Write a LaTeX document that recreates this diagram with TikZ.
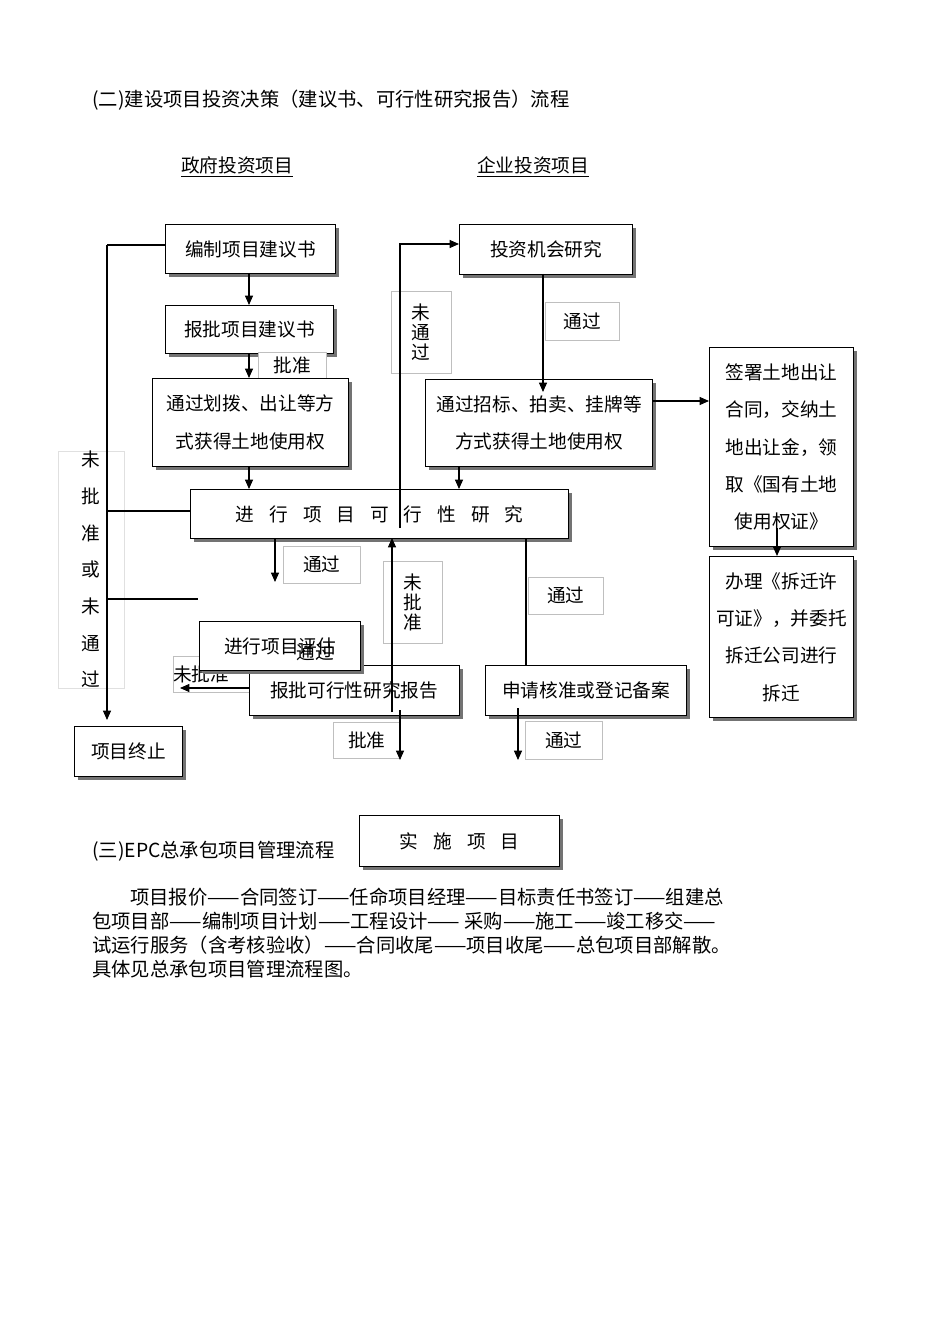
\documentclass[tikz,border=0pt]{standalone}
\usepackage{fontspec}
\setmainfont{Noto Sans CJK SC}
\usetikzlibrary{shadows,arrows.meta}
\begin{document}
\begin{tikzpicture}[x=0.75pt,y=-0.75pt,
  box/.style={draw,thick,fill=white,drop shadow={shadow xshift=2.5pt,shadow yshift=-2.5pt,fill=black!55,opacity=1},inner sep=0pt,align=center},
  lbl/.style={draw=black!25,thin,fill=white,inner sep=0pt,align=center,font=\fontsize{14}{16}\selectfont},
  arr/.style={thick,-{Triangle[length=7pt,width=6pt]}},
  ln/.style={thick},
  bt/.style={align=center,font=\fontsize{14}{28}\selectfont},
  txt/.style={anchor=west,inner sep=0pt,font=\fontsize{14.5}{16}\selectfont}]
\path[use as bounding box,fill=white] (0,0) rectangle (950,1344);
\newcommand{\bx}[6]{\node[#6,minimum width=#4*0.75pt,minimum height=#5*0.75pt,anchor=north west] (#1) at (#2,#3) {};}
% labels (behind)
\node[lbl,minimum width=66*0.75pt,minimum height=212*0.75pt,anchor=north west,font=\fontsize{14}{27.5}\selectfont,draw=black!12] (l1) at (58,451) {未\\批\\准\\或\\未\\通\\过};
\node[lbl,minimum width=60*0.75pt,minimum height=82*0.75pt,anchor=north west,font=\fontsize{14}{15}\selectfont] (l2) at (391,291) {未\\通\\过};
% left vertical loop
\coordinate (c1) at (107,245);
\coordinate (c2) at (107,720);
\draw[ln] (165,245) -- (c1);
\draw[arr] (c1) -- (c2);
\draw[ln] (107,511) -- (190,511);
\draw[ln] (107,599) -- (198,599);
% boxes
\bx{a1}{165}{224}{170}{49}{box}
\node[bt] at (a1) {编制项目建议书};
\bx{a2}{165}{305}{168}{48}{box}
\node[bt] at (a2) {报批项目建议书};
\node[lbl,minimum width=68*0.75pt,minimum height=26*0.75pt,anchor=north west] (l3) at (258,352) {批准};
\bx{a3}{152}{378}{196}{88}{box}
\node[bt] at (a3) {通过划拨、出让等方\\式获得土地使用权};
\bx{b1}{459}{224}{173}{50}{box}
\node[bt] at (b1) {投资机会研究};
\node[lbl,minimum width=74*0.75pt,minimum height=38*0.75pt,anchor=north west] (l4) at (545,302) {通过};
\bx{b2}{425}{379}{227}{87}{box}
\node[bt] at (b2) {通过招标、拍卖、挂牌等\\方式获得土地使用权};
\bx{c1b}{709}{347}{144}{199}{box}
\node[bt] at (c1b) {签署土地出让\\合同，交纳土\\地出让金，领\\取《国有土地\\使用权证》};
\bx{c2b}{709}{556}{144}{161}{box}
\node[bt] at (c2b) {办理《拆迁许\\可证》，并委托\\拆迁公司进行\\拆迁};
\bx{m}{190}{489}{378}{49}{box}
\node[bt] at (m) {进\hspace{0.8em}行\hspace{0.8em}项\hspace{0.8em}目\hspace{0.8em}可\hspace{0.8em}行\hspace{0.8em}性\hspace{0.8em}研\hspace{0.8em}究};
\node[lbl,minimum width=77*0.75pt,minimum height=37*0.75pt,anchor=north west] (l5) at (283,546) {通过};
\node[lbl,minimum width=59*0.75pt,minimum height=82*0.75pt,anchor=north west,font=\fontsize{14}{15}\selectfont] (l6) at (383,561) {未\\批\\准};
\node[lbl,minimum width=75*0.75pt,minimum height=37*0.75pt,anchor=north west] (l7) at (528,577) {通过};
\node[lbl,minimum width=77*0.75pt,minimum height=36*0.75pt,anchor=north west] (l8) at (173,656) {未批准\hspace{1.2em}};
\bx{e1}{249}{665}{210}{50}{box}
\node[bt] at (354,690) {报批可行性研究报告};
\bx{ev}{199}{621}{161}{49}{box}
\node[bt] at (ev) {进行项目评估};
\node[bt] at (315,652) {通过};
\bx{e2}{485}{665}{201}{50}{box}
\node[bt] at (e2) {申请核准或登记备案};
\bx{t}{74}{726}{108}{50}{box}
\node[bt] at (t) {项目终止};
\node[lbl,minimum width=67*0.75pt,minimum height=36*0.75pt,anchor=north west] (l9) at (333,722) {批准};
\node[lbl,minimum width=77*0.75pt,minimum height=38*0.75pt,anchor=north west] (l10) at (525,721) {通过};
\bx{s}{359}{815}{200}{51}{box}
\node[bt] at (s) {实\hspace{0.8em}施\hspace{0.8em}项\hspace{0.8em}目};
% arrows
\draw[arr] (249,273) -- (249,305);
\draw[arr] (249,353) -- (249,378);
\draw[arr] (249,466) -- (249,489);
\draw[arr] (543,274) -- (543,392);
\draw[arr] (459,466) -- (459,489);
\draw[arr] (652,401) -- (709,401);
\draw[arr] (777,528) -- (777,556);
\draw[arr] (400,528) -- (400,244) -- (459,244);
\draw[arr] (275,538) -- (275,582);
\draw[arr] (392,712) -- (392,538);
\draw[ln] (526,538) -- (526,665);
\draw[arr] (518,708) -- (518,760);
\draw[arr] (249,688) -- (180,688);
\draw[arr] (400,710) -- (400,760);
% texts
\node[txt] (h1) at (92,100) {(二)建设项目投资决策（建议书、可行性研究报告）流程};
\node[inner sep=1pt,font=\fontsize{14}{16}\selectfont] (g1) at (237,167) {\underline{政府投资项目}};
\node[inner sep=1pt,font=\fontsize{14}{16}\selectfont] (g2) at (533,167) {\underline{企业投资项目}};
\node[txt] (h2) at (92,851) {(三)EPC总承包项目管理流程};
\node[txt] (p1) at (130,897) {项目报价——合同签订——任命项目经理——目标责任书签订——组建总};
\node[txt] (p2) at (92,921) {包项目部——编制项目计划——工程设计—— 采购——施工——竣工移交——};
\node[txt] (p3) at (92,945) {试运行服务（含考核验收）——合同收尾——项目收尾——总包项目部解散。};
\node[txt] (p4) at (92,969) {具体见总承包项目管理流程图。};
\end{tikzpicture}
\end{document}
